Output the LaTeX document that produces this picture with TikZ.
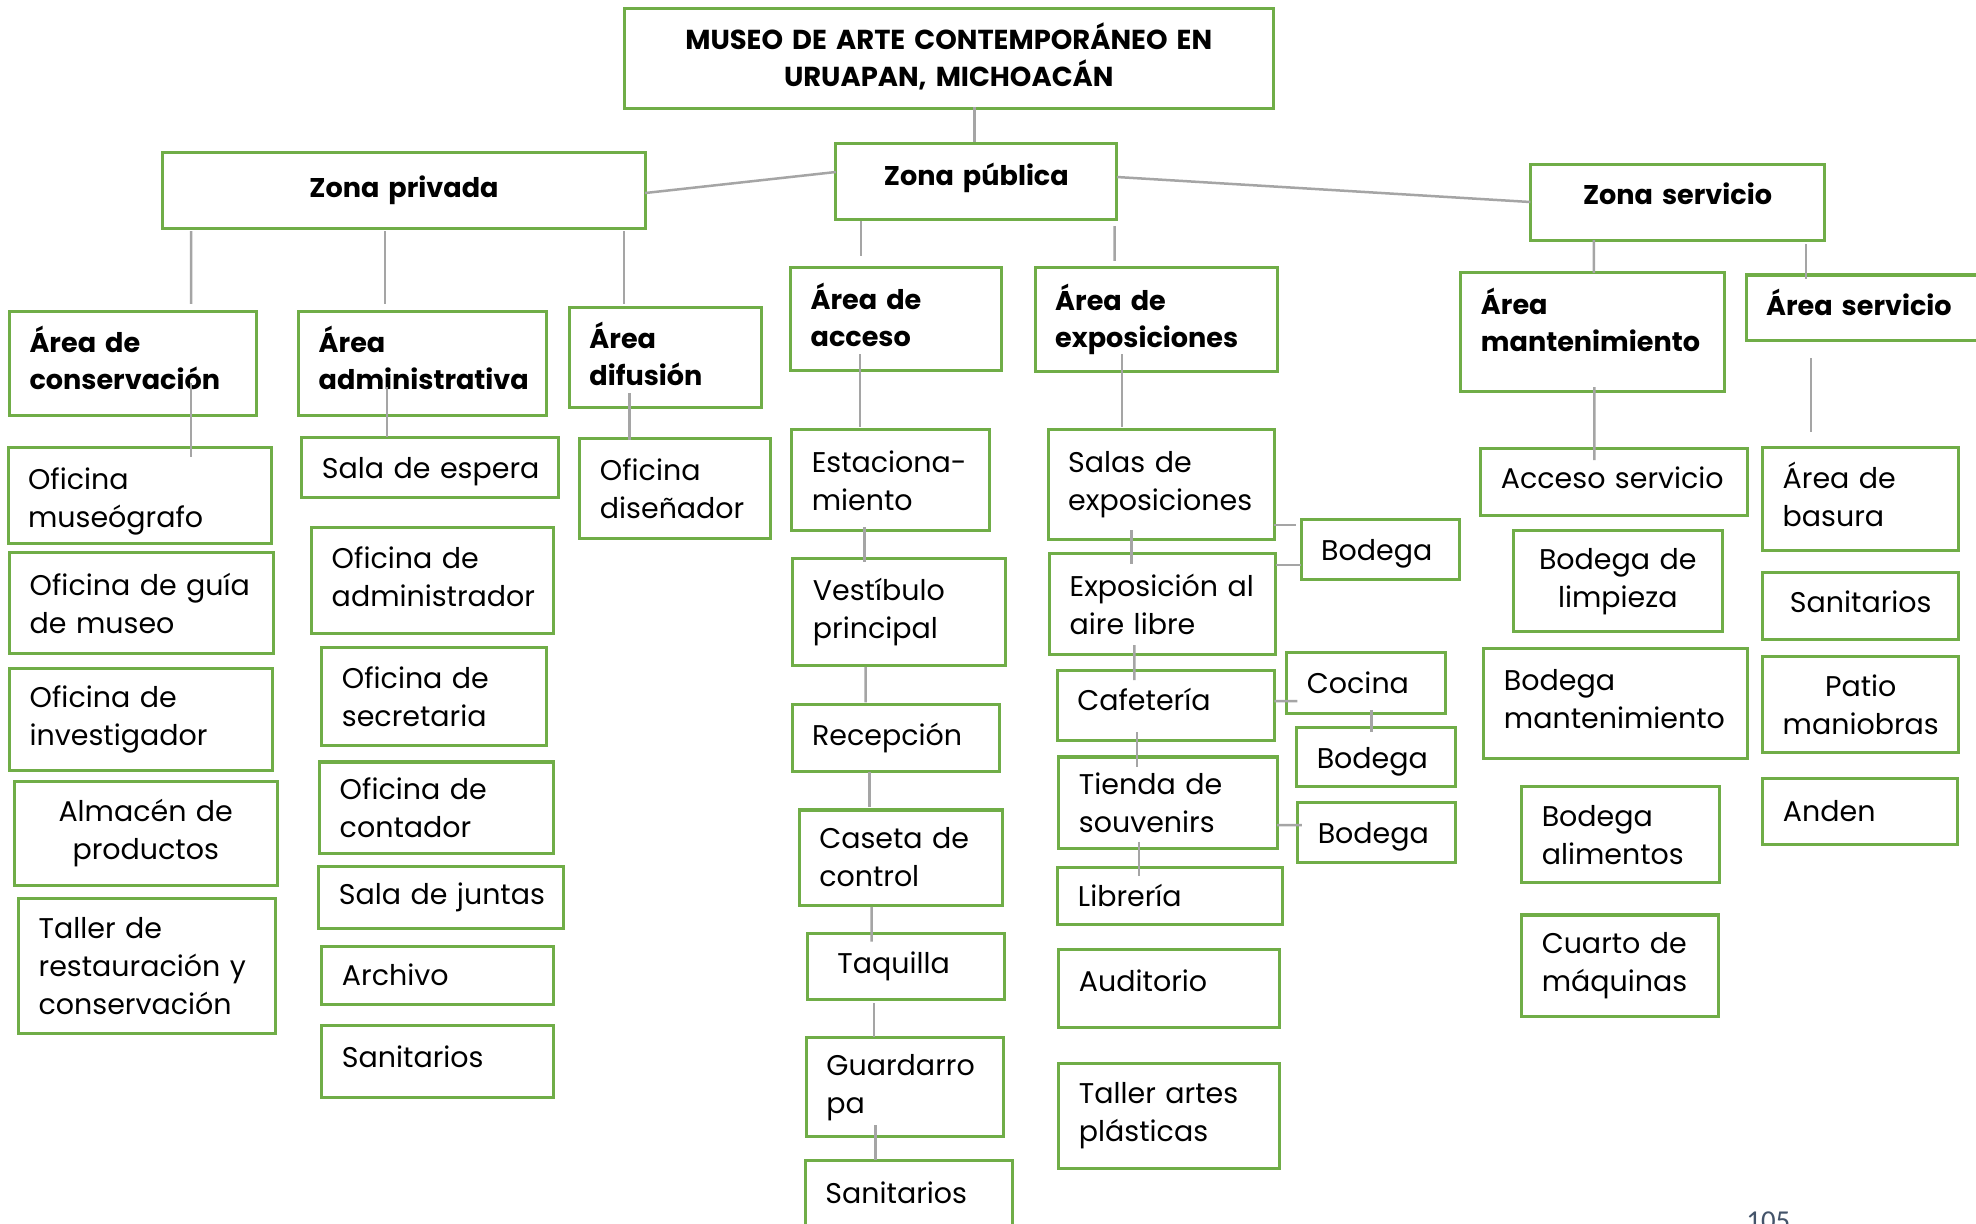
\documentclass[tikz,border=0pt]{standalone}
\usepackage{fontspec}
\setmainfont{Poppins}
\newfontfamily\pagefont{Carlito}
\usetikzlibrary{calc}
\definecolor{boxgreen}{RGB}{112,173,71}
\definecolor{linkgray}{RGB}{165,165,165}
\definecolor{pagegray}{RGB}{68,84,106}
\hyphenpenalty=10000
\exhyphenpenalty=10000
\newcommand\padbelow[1]{\rule[-#1]{0pt}{0pt}}
\newcommand\padabove[1]{\rule{0pt}{#1}}
\begin{document}
\begin{tikzpicture}[x=0.01cm, y=-0.01cm,
  room/.style={draw=boxgreen, line width=0.03cm, fill=white, outer sep=0pt, inner xsep=0.2cm, inner ysep=0pt, align=left, font=\fontsize{8.1pt}{10.8pt}\selectfont},
  head/.style={room, font=\bfseries\fontsize{7.7pt}{10.5pt}\selectfont},
  link/.style={draw=linkgray, line width=0.025cm}]
  \useasboundingbox (0,0) rectangle (1976,1223);
  \clip (0,0) rectangle (1976,1223);
  \fill[white] (0,0) rectangle (1976,1223);
  \node[head, font=\bfseries\fontsize{7.8pt}{10.4pt}\selectfont, align=center, text width=6.085cm, minimum height=1cm] (title) at (948.75,58.3) {MUSEO DE ARTE CONTEMPORÁNEO EN\\URUAPAN, MICHOACÁN\padbelow{0.07cm}};
  \node[head, align=center, text width=4.42cm, minimum height=0.75cm] (zpriv) at (404,190.5) {Zona privada};
  \node[head, align=center, text width=2.41cm, minimum height=0.75cm] (zpub) at (976.35,181.5) {Zona pública\padbelow{0.14cm}};
  \node[head, align=center, text width=2.54cm, minimum height=0.75cm] (zserv) at (1677.5,202.5) {Zona servicio\padbelow{0.18cm}};
  \node[head, text width=2.07cm, minimum height=1.03cm] (acons) at (133.1,363.5) {Área de\\conservación\padbelow{0.11cm}};
  \node[head, text width=2.08cm, minimum height=1.03cm] (aadm) at (422.8,363.5) {Área\\administrativa\padbelow{0.12cm}};
  \node[head, text width=1.52cm, minimum height=0.99cm] (adif) at (665.5,357.5) {Área\\difusión\padbelow{0.08cm}};
  \node[head, text width=1.71cm, minimum height=1.027cm] (aacc) at (896.2,319.35) {Área de\\acceso\padbelow{0.09cm}};
  \node[head, text width=2.02cm, minimum height=1.03cm] (aexp) at (1156.25,319.5) {Área de\\exposiciones};
  \node[head, text width=2.23cm, minimum height=1.18cm] (amant) at (1592.5,332) {Área\\mantenimiento\padbelow{0.25cm}};
  \node[head, text width=2.09cm, minimum height=0.65cm] (aserv) at (1870.65,307.5) {Área~servicio\padbelow{0.1cm}};
  \node[room, text width=2.23cm, minimum height=0.95cm] (omuseo) at (139.65,495.5) {\padabove{0.33cm}Oficina\\museógrafo};
  \node[room, text width=2.24cm, minimum height=1cm] (oguia) at (141.8,603) {Oficina~de~guía\\de museo};
  \node[room, text width=2.23cm, minimum height=1.01cm] (oinv) at (141.3,719.5) {Oficina de\\investigador};
  \node[room, align=center, text width=2.23cm, minimum height=1.03cm] (almacen) at (145.7,833.5) {Almacén de\\productos};
  \node[room, text width=2.17cm, minimum height=1.343cm] (taller) at (147.25,966.15) {Taller de\\restauración~y\\conservación};
  \node[room, text width=2.16cm, minimum height=0.6cm] (sespera) at (430,467) {\padabove{0.31cm}Sala~de~espera};
  \node[room, text width=2.02cm, minimum height=1.05cm] (oadmin) at (432.8,580.5) {Oficina de\\administrador\padbelow{0.075cm}};
  \node[room, text width=1.84cm, minimum height=0.97cm] (osecre) at (434,696.5) {Oficina de\\secretaria};
  \node[room, text width=1.94cm, minimum height=0.913cm] (oconta) at (436.8,807.65) {Oficina de\\contador};
  \node[room, text width=2.05cm, minimum height=0.62cm] (sjuntas) at (441.4,897.7) {Sala~de~juntas};
  \node[room, text width=1.91cm, minimum height=0.583cm] (archivo) at (437.5,975.15) {Archivo};
  \node[room, text width=1.91cm, minimum height=0.727cm] (sanadm) at (437.5,1061.35) {Sanitarios\padbelow{0.09cm}};
  \node[room, text width=1.5cm, minimum height=0.99cm] (odisen) at (675,488.5) {Oficina\\diseñador};
  \node[room, text width=1.58cm, minimum height=1.007cm] (estac) at (890.85,480.35) {Estaciona-\\miento};
  \node[room, text width=1.72cm, minimum height=1.063cm] (vesti) at (899,612.15) {Vestíbulo\\principal};
  \node[room, text width=1.67cm, minimum height=0.677cm] (recep) at (895.65,737.85) {Recepción};
  \node[room, text width=1.63cm, minimum height=0.95cm] (caseta) at (900.8,857.5) {Caseta~de\\control};
  \node[room, text width=1.57cm, minimum height=0.657cm] (taquilla) at (906,966.15) {\hspace*{0.1cm}Taquilla};
  \node[room, text width=1.57cm, minimum height=0.99cm] (guarda) at (905,1087.2) {Guardarro\\pa};
  \node[room, text width=1.67cm, minimum height=0.66cm] (sanacc) at (909,1193) {Sanitarios};
  \node[room, text width=1.86cm, minimum height=1.09cm] (salas) at (1161.25,484.5) {Salas de\\exposiciones};
  \node[room, text width=1.86cm, minimum height=1cm] (expo) at (1162.75,604) {Exposición~al\\aire libre};
  \node[room, text width=1.18cm, minimum height=0.6cm] (bod1) at (1380.2,549) {\padabove{0.3cm}Bodega};
  \node[room, text width=1.77cm, minimum height=0.707cm] (cafe) at (1165.9,705.35) {Cafetería\padbelow{0.13cm}};
  \node[room, text width=1.18cm, minimum height=0.603cm] (cocina) at (1366,682.85) {Cocina};
  \node[room, text width=1.19cm, minimum height=0.597cm] (bod2) at (1376.3,756.85) {\padabove{0.3cm}Bodega};
  \node[room, text width=1.78cm, minimum height=0.913cm] (tienda) at (1168,802.65) {Tienda~de\\souvenirs};
  \node[room, text width=1.18cm, minimum height=0.596cm] (bod3) at (1376.8,832.5) {\padabove{0.3cm}Bodega};
  \node[room, text width=1.84cm, minimum height=0.567cm] (libreria) at (1170,895.65) {Librería};
  \node[room, text width=1.8cm, minimum height=0.783cm] (audit) at (1169,988.15) {Auditorio\padbelow{0.15cm}};
  \node[room, text width=1.8cm, minimum height=1.05cm] (tartes) at (1169,1115.8) {Taller~artes\\plásticas};
  \node[room, text width=2.26cm, minimum height=0.677cm] (accserv) at (1614,481.85) {Acceso~servicio\padbelow{0.08cm}};
  \node[room, align=center, text width=1.69cm, minimum height=1.007cm] (blimp) at (1617.75,581.35) {Bodega~de\\limpieza};
  \node[room, text width=2.23cm, minimum height=1.097cm] (bmant) at (1615.5,703.85) {Bodega\\mantenimiento\padbelow{0.1cm}};
  \node[room, text width=1.58cm, minimum height=0.96cm] (balim) at (1620.8,834.7) {Bodega\\alimentos};
  \node[room, text width=1.57cm, minimum height=1.01cm] (cuarto) at (1620.3,965.5) {Cuarto~de\\máquinas};
  \node[room, text width=1.56cm, minimum height=1.027cm] (basura) at (1860.75,499.35) {Área de\\basura\padbelow{0.1cm}};
  \node[room, align=center, text width=1.56cm, minimum height=0.666cm] (sanserv) at (1860.75,606) {Sanitarios\padbelow{0.08cm}};
  \node[room, align=center, text width=1.56cm, minimum height=0.96cm] (patio) at (1860.75,704.7) {Patio\\maniobras};
  \node[room, text width=1.54cm, minimum height=0.663cm] (anden) at (1860,811.15) {Anden};
  \node[font=\pagefont\fontsize{8.2pt}{9pt}\selectfont, text=pagegray, anchor=base west, inner sep=0pt] (pnum) at (1745.7,1230) {105};
  \draw[link] ($(title.south)+(25.75,-1.3)$) -- ($(zpub.north)+(-1.85,-2)$);
  \draw[link] ($(zpriv.east)+(0,2.5)$) -- ($(zpub.west)+(0,-9.5)$);
  \draw[link] ($(zpub.east)+(0,-4.5)$) -- ($(zserv.west)+(0,-0.5)$);
  \draw[link] ($(zpriv.south)+(-213,3)$) -- ($(acons.north)+(57.9,-8)$);
  \draw[link] ($(zpriv.south)+(-19,3)$) -- ($(aadm.north)+(-37.8,-8)$);
  \draw[link] ($(zpriv.south)+(220,3)$) -- ($(adif.north)+(-41.5,-4)$);
  \draw[link] ($(zpub.south)+(-115.35,2)$) -- ($(aacc.north)+(-35.2,-12)$);
  \draw[link] ($(zpub.south)+(138.15,7)$) -- ($(aexp.north)+(-41.75,-7)$);
  \draw[link] ($(zserv.south)+(-83.7,0)$) -- ($(amant.north)+(1.3,0)$);
  \draw[link] ($(zserv.south)+(128.5,4)$) -- ($(aserv.north)+(-64.65,4)$);
  \draw[link] ($(acons.south)+(57.9,-32)$) -- ($(omuseo.north)+(51.35,9)$);
  \draw[link] ($(aadm.south)+(-35.8,-28)$) -- ($(sespera.north)+(-43,0)$);
  \draw[link] ($(adif.south)+(-36,-14)$) -- ($(odisen.north)+(-45.5,1)$);
  \draw[link] ($(aacc.south)+(-36.2,-16.7)$) -- ($(estac.north)+(-30.85,-3)$);
  \draw[link] ($(estac.south)+(-26.55,-3.4)$) -- ($(vesti.north)+(-34.7,2.7)$);
  \draw[link] ($(vesti.south)+(-33.3,1.4)$) -- ($(recep.north)+(-29.95,-1.7)$);
  \draw[link] ($(recep.south)+(-25.95,0)$) -- ($(caseta.north)+(-31.1,-2.7)$);
  \draw[link] ($(caseta.south)+(-29.1,1.7)$) -- ($(taquilla.north)+(-34.3,8.4)$);
  \draw[link] ($(taquilla.south)+(-32,4.3)$) -- ($(guarda.north)+(-31,-0.4)$);
  \draw[link] ($(guarda.south)+(-29.3,-11.7)$) -- ($(sanacc.north)+(-33.3,0)$);
  \draw[link] ($(aexp.south)+(-34.25,-17)$) -- ($(salas.north)+(-39.25,-3)$);
  \draw[link] ($(salas.south)+(-29.95,-9)$) -- ($(expo.north)+(-31.45,10)$);
  \draw[link] ($(expo.south)+(-28.35,-9)$) -- ($(cafe.north)+(-31.5,10)$);
  \draw[link] ($(cafe.south)+(-28.9,-8.7)$) -- ($(tienda.north)+(-31,10)$);
  \draw[link] ($(tienda.south)+(-29.2,-6.6)$) -- ($(libreria.north)+(-31.2,8.7)$);
  \draw[link] ($(salas.east)+(0,40.5)$) -- ($(bod1.west)+(-4.7,-24)$);
  \draw[link] ($(expo.east)+(0,-39)$) -- ($(bod1.west)+(0,16)$);
  \draw[link] ($(cafe.east)+(0,-4.35)$) -- ($(cocina.west)+(10.5,18.15)$);
  \draw[link] ($(cocina.south)+(5.6,-3)$) -- ($(bod2.north)+(-4.7,4.7)$);
  \draw[link] ($(tienda.east)+(0,22.35)$) -- ($(bod3.west)+(4,-7.5)$);
  \draw[link] ($(amant.south)+(1.9,-4)$) -- ($(accserv.north)+(-19.6,12)$);
  \draw[link] ($(aserv.south)+(-59.65,18)$) -- ($(basura.north)+(-49.75,-16)$);
\end{tikzpicture}
\end{document}
